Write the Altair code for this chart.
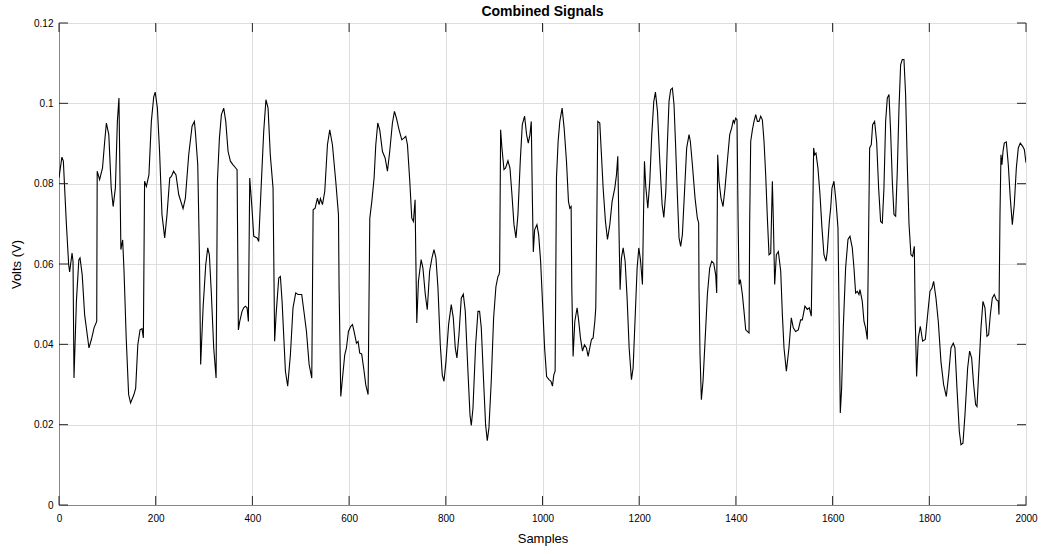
import altair as alt
import pandas as pd

samples = [
    0, 6, 9, 15, 20, 22, 27, 29, 31, 36, 41, 43.5, 48, 53, 62, 67, 72.5, 78, 79, 84,
    90, 94.5, 98, 103, 108, 112, 116.6, 120.7, 124, 128, 131.7, 134.5, 139, 144, 148, 155,
    158.6, 163, 167.6, 171.7, 174.5, 177, 180.7, 186, 191, 196, 199, 203.5, 208, 213,
    218.6, 223.4, 229, 232.4, 237, 242, 247.6, 256.6, 261.4, 268.3, 275.2, 280, 282, 287,
    290.4, 293, 298, 303.5, 307.6, 311, 315.2, 320, 324.9, 327.6, 331.8, 335.9, 340.7,
    344.9, 349.7, 354.5, 360, 365.5, 368.3, 371, 373.8, 378.6, 382, 385.5, 389, 391.7,
    394.5, 398.6, 402.8, 409.7, 413, 418, 423.4, 428, 432.4, 437, 442.7, 446, 449, 454.5,
    457.9, 461.4, 468.3, 473, 478.6, 484, 489.6, 494.4, 502, 507, 511.8, 517.3, 522.8,
    525.6, 529.7, 534.5, 538, 540.7, 544.9, 549.7, 555.2, 560, 565.5, 572.4, 578, 579.3,
    582.8, 586, 591, 594.5, 598.6, 603.5, 607, 610.3, 615.2, 618.6, 622, 626, 631, 634.5,
    639.3, 642.8, 647, 651.7, 655.2, 659.3, 663.4, 669, 674.5, 679.3, 684, 689.6, 693.8,
    697.9, 703.4, 709, 713.8, 717.2, 720.7, 725.5, 729.6, 733, 736.5, 737.9, 740, 743.4,
    749, 752.7, 757.6, 761.7, 766.5, 771.4, 775.5, 779.6, 783.8, 788.6, 792.7, 796.2,
    800.3, 805.8, 811.3, 815.5, 819.6, 823, 827.2, 832, 836.2, 840.3, 845.8, 850, 852.7,
    856.2, 861.7, 866.5, 869.9, 873.4, 878.2, 882.3, 885.8, 889.2, 894, 898.9, 903.7,
    907.9, 910, 911.3, 913.4, 916.1, 920.3, 923.7, 928.5, 932.7, 936.8, 941, 945.1, 949.2,
    954, 958.2, 963, 967.1, 970.6, 974, 976.8, 978.9, 981, 983.7, 988.5, 992, 996.1,
    1000.2, 1004.4, 1008.5, 1013.5, 1017.5, 1020.6, 1023.4, 1026.1, 1028.9, 1032.3,
    1035.8, 1040.6, 1044.7, 1049.6, 1053.7, 1056.5, 1059.2, 1060.6, 1063.3, 1066.8,
    1071.6, 1075, 1078.5, 1082.7, 1086.8, 1090.9, 1094.4, 1097.8, 1101.3, 1104.7, 1108.2,
    1110.2, 1112.3, 1114.4, 1118.5, 1121.9, 1125.4, 1130.2, 1134.4, 1139.2, 1144, 1149.5,
    1153, 1155.7, 1158.5, 1160.5, 1163.3, 1166.8, 1170.9, 1175, 1179.2, 1184, 1187.4,
    1191.6, 1195.7, 1199.2, 1202.6, 1206.7, 1208.8, 1210.9, 1213.6, 1217.8, 1221.9, 1226,
    1230.2, 1233.6, 1237.8, 1242.6, 1247.4, 1250.9, 1255, 1258.2, 1261.7, 1265.1, 1268.6,
    1272, 1275.5, 1278.9, 1282.4, 1285.8, 1289.3, 1294.1, 1298.2, 1303.1, 1305.8, 1310,
    1315.5, 1320.3, 1323, 1323.7, 1325.8, 1328.6, 1332, 1336.2, 1341, 1345.8, 1350,
    1354.1, 1358.2, 1360.3, 1362.3, 1365.1, 1369.2, 1373.4, 1377.5, 1382.3, 1387.2,
    1391.3, 1394.8, 1396.8, 1399.6, 1402.3, 1404.4, 1406.5, 1409.2, 1413.4, 1416.8,
    1420.3, 1423.7, 1427.2, 1428.5, 1430.6, 1434.1, 1437.5, 1441, 1444.4, 1447.8, 1451.3,
    1454.7, 1458.2, 1461.6, 1465.1, 1468.5, 1472, 1475.4, 1477.5, 1480.2, 1483.7, 1487.8,
    1492.7, 1496.1, 1499.5, 1504.4, 1509.7, 1514.6, 1518.7, 1523.5, 1529, 1533.9, 1537.3,
    1542.8, 1547.7, 1551.8, 1555.9, 1558.7, 1560.8, 1562.8, 1565.6, 1569.7, 1573.9, 1578,
    1582.1, 1586.3, 1589, 1593.2, 1596, 1598.7, 1602.8, 1607, 1611.1, 1613.2, 1615.9,
    1618.7, 1622.1, 1626.9, 1631.8, 1635.9, 1640.7, 1644.2, 1647.6, 1651.1, 1654.5,
    1656.6, 1661.4, 1664.9, 1668.3, 1671.8, 1673.8, 1676.6, 1680, 1682.8, 1686.9, 1691.1,
    1695.2, 1699.3, 1702.8, 1706.2, 1709.7, 1713.1, 1716.6, 1720, 1723.5, 1726.9, 1730.4,
    1733.8, 1737.3, 1740.7, 1744.1, 1747.6, 1751, 1754.5, 1758, 1762, 1765.5, 1769, 1771,
    1773.8, 1777.3, 1781.4, 1786.2, 1791.7, 1796.6, 1801.4, 1805.5, 1809, 1813.8, 1818.6,
    1824.1, 1829.6, 1835.2, 1840, 1844.8, 1849.6, 1853.1, 1857.2, 1862.1, 1865.5, 1869.6,
    1873.8, 1879.3, 1883.4, 1887.6, 1891.7, 1895.8, 1898.6, 1902.7, 1906.9, 1911, 1915.1,
    1919.3, 1922.7, 1926.2, 1930.3, 1934.4, 1938.6, 1942.7, 1944.1, 1946.2, 1948.2,
    1950.3, 1952.4, 1955.1, 1959.3, 1963.4, 1967.5, 1971.7, 1975.8, 1980, 1984.1, 1988.2,
    1993.1, 1996.5, 2000,
]

volts = [
    0.0815, 0.0866, 0.0856, 0.0706, 0.0598, 0.058, 0.0627, 0.0607, 0.0316, 0.0507, 0.061,
    0.0615, 0.0573, 0.0474, 0.0391, 0.0412, 0.0441, 0.0457, 0.0831, 0.081, 0.0839, 0.0905,
    0.0951, 0.0922, 0.0789, 0.0743, 0.0789, 0.0955, 0.1013, 0.0636, 0.066, 0.0582, 0.0416,
    0.0275, 0.0254, 0.0275, 0.0291, 0.0399, 0.0436, 0.0439, 0.0416, 0.0806, 0.0793, 0.0822,
    0.0955, 0.1017, 0.1028, 0.0988, 0.088, 0.0723, 0.0665, 0.0723, 0.0814, 0.0818, 0.0831,
    0.0822, 0.0773, 0.0738, 0.0764, 0.0872, 0.0943, 0.0955, 0.093, 0.0847, 0.0623, 0.035,
    0.0491, 0.0598, 0.064, 0.0623, 0.0524, 0.0391, 0.0316, 0.0806, 0.0914, 0.0972, 0.0988,
    0.0955, 0.088, 0.0856, 0.0847, 0.0839, 0.0835, 0.0436, 0.0457, 0.0482, 0.0491, 0.0495,
    0.0491, 0.0457, 0.0814, 0.0748, 0.0669, 0.0665, 0.0656, 0.0789, 0.093, 0.1009, 0.0988,
    0.0872, 0.0789, 0.0408, 0.0474, 0.0565, 0.0569, 0.0507, 0.0333, 0.0296, 0.0374, 0.0491,
    0.0528, 0.0524, 0.0524, 0.0478, 0.0432, 0.035, 0.0316, 0.0735, 0.0739, 0.0764, 0.0748,
    0.0763, 0.0748, 0.0781, 0.0897, 0.0934, 0.0897, 0.0806, 0.0723, 0.054, 0.027, 0.0312,
    0.0374, 0.0391, 0.0432, 0.0445, 0.0449, 0.0432, 0.0403, 0.0407, 0.0378, 0.0376, 0.0333,
    0.0299, 0.0275, 0.0714, 0.0756, 0.0814, 0.0897, 0.0951, 0.0934, 0.088, 0.0864, 0.0831,
    0.088, 0.0951, 0.098, 0.0963, 0.0934, 0.0909, 0.0914, 0.0918, 0.0897, 0.0806, 0.0714,
    0.0706, 0.076, 0.0623, 0.0453, 0.0557, 0.0611, 0.059, 0.0524, 0.0486, 0.0582, 0.0615,
    0.0636, 0.0615, 0.054, 0.0399, 0.0324, 0.0308, 0.0357, 0.0449, 0.0499, 0.0466, 0.0391,
    0.0366, 0.0424, 0.0515, 0.0525, 0.0482, 0.0333, 0.0225, 0.0198, 0.0241, 0.0399, 0.0482,
    0.0482, 0.0441, 0.0308, 0.02, 0.016, 0.0192, 0.0308, 0.0466, 0.0544, 0.0569, 0.0573,
    0.0582, 0.0934, 0.0889, 0.0835, 0.0839, 0.0857, 0.0839, 0.0773, 0.0698, 0.0665, 0.0723,
    0.0856, 0.0947, 0.0968, 0.0922, 0.0901, 0.0922, 0.0955, 0.0773, 0.063, 0.0685, 0.0698,
    0.0673, 0.0607, 0.0499, 0.039, 0.032, 0.0312, 0.0308, 0.0296, 0.0324, 0.0333, 0.0814,
    0.0905, 0.0955, 0.0988, 0.0939, 0.0856, 0.0756, 0.0739, 0.0743, 0.054, 0.037, 0.0457,
    0.0491, 0.0457, 0.0416, 0.0383, 0.0399, 0.0391, 0.037, 0.0391, 0.0412, 0.0416, 0.0457,
    0.0491, 0.0706, 0.0955, 0.0951, 0.0872, 0.0789, 0.0706, 0.0661, 0.0698, 0.0756, 0.0789,
    0.0822, 0.0868, 0.0665, 0.0536, 0.0615, 0.064, 0.0607, 0.0515, 0.0391, 0.0312, 0.0341,
    0.0466, 0.059, 0.064, 0.0611, 0.0549, 0.0714, 0.0856, 0.0793, 0.0739, 0.0806, 0.0922,
    0.1005, 0.1028, 0.098, 0.0856, 0.0748, 0.0716, 0.078, 0.0897, 0.1005, 0.1034, 0.1038,
    0.0997, 0.0889, 0.0773, 0.0665, 0.0644, 0.0673, 0.0789, 0.0889, 0.0922, 0.0905, 0.0847,
    0.0764, 0.0714, 0.0702, 0.054, 0.0374, 0.0262, 0.0308, 0.0408, 0.0524, 0.059, 0.0607,
    0.0602, 0.0573, 0.0528, 0.0872, 0.0806, 0.0764, 0.0743, 0.0789, 0.0856, 0.0922, 0.0939,
    0.0959, 0.0951, 0.0963, 0.0959, 0.0723, 0.0549, 0.0561, 0.0524, 0.0482, 0.0436, 0.0432,
    0.0428, 0.0706, 0.0905, 0.0934, 0.0955, 0.0972, 0.0955, 0.0955, 0.0968, 0.0959, 0.0905,
    0.0822, 0.0714, 0.0623, 0.0627, 0.0806, 0.0706, 0.0549, 0.0623, 0.0631, 0.0582, 0.0474,
    0.0391, 0.0333, 0.0391, 0.0466, 0.0441, 0.0432, 0.0436, 0.0461, 0.0461, 0.0495, 0.0487,
    0.0491, 0.047, 0.0706, 0.0889, 0.0872, 0.0876, 0.0839, 0.0773, 0.069, 0.0623, 0.0607,
    0.0631, 0.0706, 0.0739, 0.0789, 0.0806, 0.0756, 0.069, 0.0499, 0.0229, 0.0291, 0.0441,
    0.059, 0.0661, 0.0669, 0.064, 0.059, 0.0528, 0.0532, 0.0524, 0.0536, 0.0507, 0.0457,
    0.0441, 0.0412, 0.0607, 0.0889, 0.0897, 0.0947, 0.0955, 0.0905, 0.0789, 0.0706, 0.0702,
    0.0789, 0.0955, 0.1013, 0.1022, 0.093, 0.0806, 0.0723, 0.0719, 0.0831, 0.0988, 0.1096,
    0.1109, 0.1109, 0.1022, 0.0847, 0.07, 0.0623, 0.0619, 0.0644, 0.0457, 0.032, 0.0416,
    0.0445, 0.0408, 0.0412, 0.0474, 0.0532, 0.054, 0.0557, 0.0515, 0.0457, 0.0357, 0.03,
    0.027, 0.0324, 0.0391, 0.0403, 0.0391, 0.0291, 0.0183, 0.015, 0.0154, 0.0225, 0.0341,
    0.0383, 0.0366, 0.03, 0.025, 0.0245, 0.0341, 0.0441, 0.0507, 0.0491, 0.042, 0.0424,
    0.0474, 0.0515, 0.0524, 0.0511, 0.0507, 0.0474, 0.0723, 0.0872, 0.0847, 0.088, 0.0901,
    0.0904, 0.0847, 0.0764, 0.0698, 0.0748, 0.0839, 0.0889, 0.0901, 0.0893, 0.0885, 0.0852,
]

x_ticks = [0, 200, 400, 600, 800, 1000, 1200, 1400, 1600, 1800, 2000]
y_ticks = [0, 0.02, 0.04, 0.06, 0.08, 0.1, 0.12]

n = min(len(samples), len(volts))
df = pd.DataFrame({"Samples": samples[:n], "Volts": volts[:n]})
xt = pd.DataFrame({"Samples": x_ticks})
yt = pd.DataFrame({"Volts": y_ticks})

W, H = 967, 482
FONT = "Liberation Sans"
DARK = "#262626"
TICK = 9

x_scale = alt.Scale(domain=[0, 2000], nice=False, zero=False)
y_scale = alt.Scale(domain=[0, 0.12], nice=False, zero=False)
x_axis = alt.Axis(values=x_ticks, title="Samples", format="d", tickSize=0,
                  labelPadding=8, titlePadding=9, grid=True, labelFlush=False,
                  titleFontWeight="normal", titleFontSize=13)
y_axis = alt.Axis(values=y_ticks, title="Volts (V)", tickSize=0,
                  labelExpr="format(datum.value, '~g')", labelFlush=False,
                  labelPadding=6, titlePadding=10, grid=True,
                  titleFontWeight="normal", titleFontSize=13)

line = alt.Chart(df).mark_line(color="black", strokeWidth=1.1, clip=True).encode(
    x=alt.X("Samples:Q", scale=x_scale, axis=x_axis),
    y=alt.Y("Volts:Q", scale=y_scale, axis=y_axis),
)

xb = alt.Chart(xt).mark_rule(color=DARK, strokeWidth=1).encode(
    x=alt.X("Samples:Q", scale=x_scale, axis=x_axis), y=alt.value(H), y2=alt.value(H - TICK))
xtp = alt.Chart(xt).mark_rule(color=DARK, strokeWidth=1).encode(
    x=alt.X("Samples:Q", scale=x_scale, axis=x_axis), y=alt.value(0), y2=alt.value(TICK))
yl = alt.Chart(yt).mark_rule(color=DARK, strokeWidth=1).encode(
    y=alt.Y("Volts:Q", scale=y_scale, axis=y_axis), x=alt.value(0), x2=alt.value(TICK))
yr = alt.Chart(yt).mark_rule(color=DARK, strokeWidth=1).encode(
    y=alt.Y("Volts:Q", scale=y_scale, axis=y_axis), x=alt.value(W), x2=alt.value(W - TICK))

chart = alt.layer(line, xb, xtp, yl, yr).properties(
    width=W, height=H,
    title=alt.Title("Combined Signals", fontSize=14, fontWeight="bold", font=FONT,
                    color="black", offset=-1, anchor="middle"),
    autosize=alt.AutoSizeParams(type="none"),
    padding={"left": 59, "top": 23, "right": 23, "bottom": 49},
).configure_view(
    stroke=DARK, strokeWidth=1
).configure_axis(
    domainColor=DARK, gridColor="#dfdfdf", gridWidth=1,
    labelColor=DARK, titleColor=DARK, labelFont=FONT, titleFont=FONT,
    labelFontSize=12, titleFontSize=13, titleFontWeight="normal",
).configure(background="white")

chart.save("out.html", embed_options={"renderer": "svg", "actions": False})
